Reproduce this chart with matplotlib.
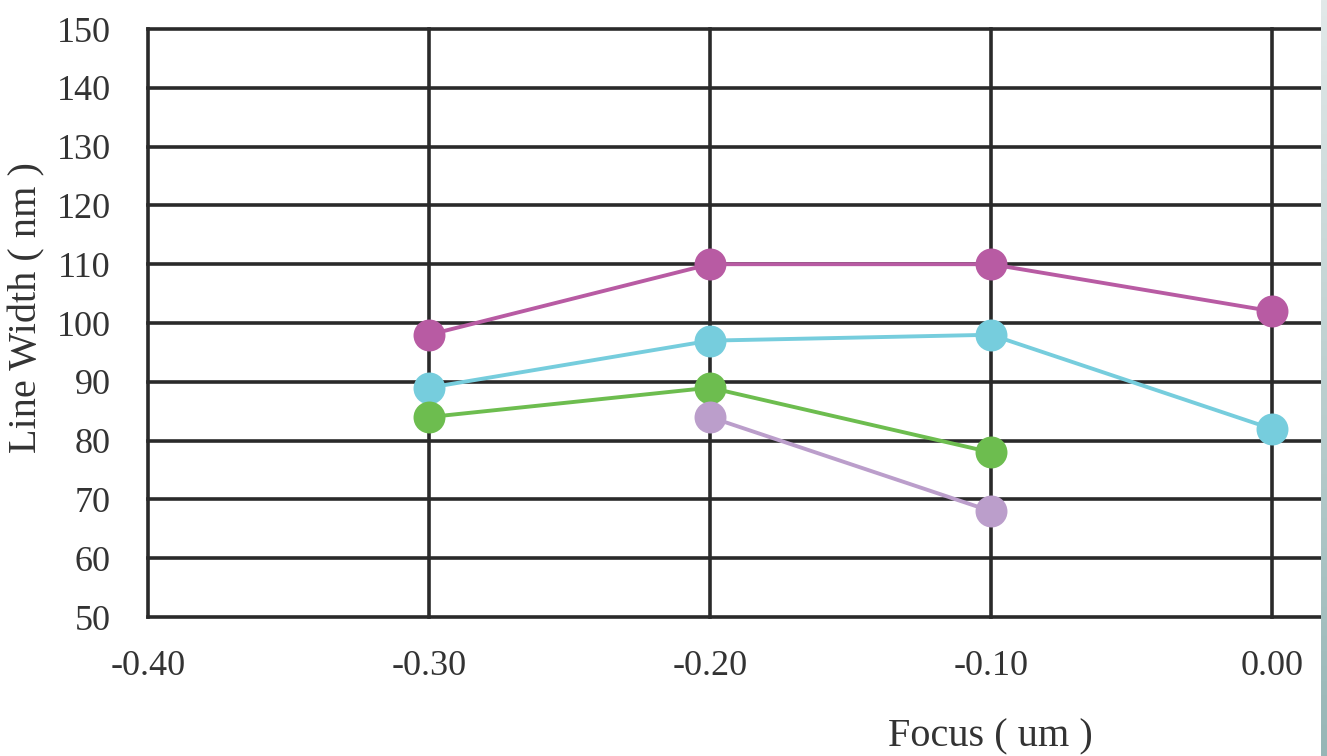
import matplotlib.pyplot as plt
import numpy as np
from matplotlib.colors import LinearSegmentedColormap

# focus positions (um) and measured line width (nm) for each dose
focus = [-0.30, -0.20, -0.10, 0.00]
width_a = [98, 110, 110, 102]
width_b = [89, 97, 98, 82]
width_c = [84, 89, 78, None]
width_d = [None, 84, 68, None]

x_ticks = [-0.40, -0.30, -0.20, -0.10, 0.00]
y_ticks = list(range(50, 151, 10))

colors = ["#b85ba3", "#76cddd", "#6dbd4f", "#bb9ecb"]

W, H = 1327, 756
plt.rcParams['font.family'] = ['Liberation Serif', 'DejaVu Serif']
fig = plt.figure(figsize=(W / 100, H / 100), dpi=100)

# plot area: left edge at -0.40, cropped on the right just after 0.00
left, right, top, bottom = 148, 1320, 29, 617
ax = fig.add_axes([left / W, 1 - bottom / H, (right - left) / W, (bottom - top) / H])
x_px = 281.0  # pixels per 0.1 um
ax.set_xlim(-0.40, -0.40 + (right - left) / x_px * 0.1)
ax.set_ylim(50, 150)

grid_c = "#2a2a2a"
for v in y_ticks:
    ax.axhline(v, color=grid_c, lw=2.6, zorder=1, clip_on=False)
for v in x_ticks:
    ax.axvline(v, color=grid_c, lw=2.6, zorder=1, clip_on=False)
for s in ax.spines.values():
    s.set_visible(False)

for ys, c in zip([width_a, width_b, width_c, width_d], colors):
    xs = [f for f, y in zip(focus, ys) if y is not None]
    yv = [y for y in ys if y is not None]
    ax.plot(xs, yv, color=c, lw=2.8, zorder=2, marker="o", markersize=23,
            markeredgewidth=0, solid_capstyle="butt")

ax.set_xticks(x_ticks)
ax.set_xticklabels(["%.2f" % v for v in x_ticks])
ax.set_yticks(y_ticks)
ax.tick_params(length=0, labelsize=26, labelcolor="#333333")
ax.tick_params(axis="y", pad=27)
ax.tick_params(axis="x", pad=24)

fig.text(990 / W, 1 - 737 / H, "Focus ( um )", ha="center", va="center",
         fontsize=29, color="#333333")
fig.text(27 / W, 1 - 308 / H, "Line Width ( nm )", ha="center", va="center",
         rotation=90, fontsize=29, color="#333333")

# thin shaded strip on the right edge of the screenshot
strip = fig.add_axes([1321 / W, 0, 6 / W, 1])
grad = np.linspace(0, 1, 256).reshape(-1, 1)
cm = LinearSegmentedColormap.from_list("s", ["#e2e9e9", "#96b6b6"])
strip.imshow(grad, aspect="auto", cmap=cm, extent=[0, 1, 0, 1], origin="upper")
strip.axis("off")

fig.savefig("out.png", dpi=100)
